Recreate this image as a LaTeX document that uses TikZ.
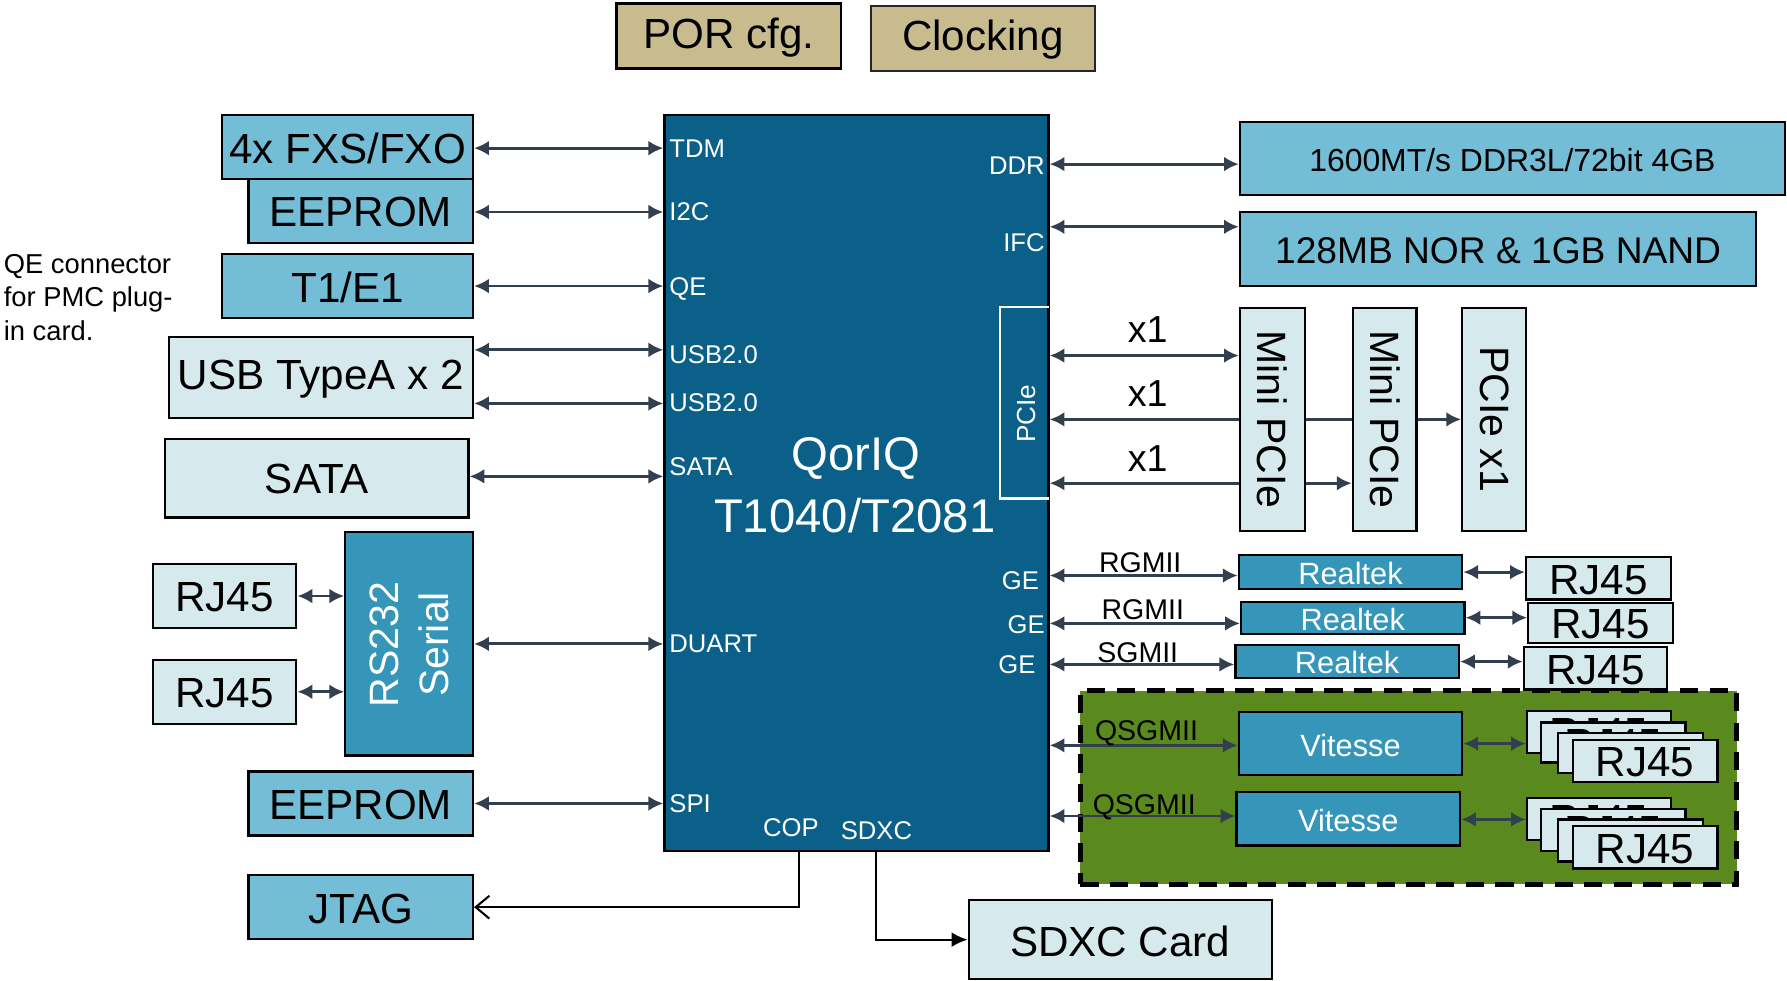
\documentclass[tikz,border=0pt]{standalone}
\usepackage{fontspec}
\setmainfont{Liberation Sans}
\usetikzlibrary{arrows.meta,fit}
\definecolor{chipblue}{HTML}{0A6089}
\definecolor{medblue}{HTML}{73BDD6}
\definecolor{lightblue}{HTML}{D6EAEE}
\definecolor{rsblue}{HTML}{3596B9}
\definecolor{tanc}{HTML}{C8BC8F}
\definecolor{grn}{HTML}{5A891D}
\definecolor{arr}{HTML}{323F4F}
\pgfdeclarelayer{bg}
\pgfdeclarelayer{edges}
\pgfsetlayers{bg,edges,main}
\newcommand\fsBig{\fontsize{18.5pt}{22pt}\selectfont}
\newcommand\fsChip{\fontsize{20.75pt}{25pt}\selectfont}
\newcommand\fsPort{\fontsize{11.25pt}{13.5pt}\selectfont}
\newcommand\fsMid{\fontsize{13.5pt}{16pt}\selectfont}
\newcommand\fsBus{\fontsize{12.5pt}{15pt}\selectfont}
\newcommand\fsXone{\fontsize{16.5pt}{20pt}\selectfont}
\newcommand\fsDdr{\fontsize{14pt}{17pt}\selectfont}
\newcommand\fsNor{\fontsize{16.3pt}{19pt}\selectfont}
\newcommand\fsRot{\fontsize{18pt}{22pt}\selectfont}
\newcommand\fsNote{\fontsize{12pt}{14.8pt}\selectfont}
\newcommand\fsPcie{\fontsize{11.5pt}{14pt}\selectfont}
% box: name, x1, y1, x2, y2, style, text
\newcommand\bx[7]{\node[#6, fit={(#2,#3) (#4,#5)}] (#1) {};
  \node[#6, draw=none, fill=none] (#1-t) at ([yshift=-0.6pt]#1.center) {#7};}
\begin{document}
\begin{tikzpicture}[x=0.5pt,y=-0.5pt,
  box/.style={draw=black,line width=1pt,inner sep=0pt,text=black,font=\fsBig},
  med/.style={box,fill=medblue},
  lite/.style={box,fill=lightblue},
  rsb/.style={box,fill=rsblue,text=white,font=\fsMid},
  tanbox/.style={box,fill=tanc},
  port/.style={text=white,font=\fsPort,inner sep=0pt},
  bus/.style={text=black,font=\fsBus,inner sep=0pt},
  link/.style={draw=arr,line width=1.25pt,{Latex[length=6.5pt,width=6.5pt]}-{Latex[length=6.5pt,width=6.5pt]}},
  plain/.style={draw=black,line width=0.9pt}
]
\useasboundingbox (0,0) rectangle (1568,860);

% top config boxes
\bx{por}{541}{3}{738}{60}{tanbox}{POR cfg.}
\bx{clk}{764}{5}{961}{62}{tanbox,draw=black!85}{Clocking}

% chip
\node[box,fill=chipblue,fit={(583,101) (920,747)}] (chip) {};
\node[fit={(878,270) (920,437)},inner sep=0pt] (pciebr) {};
\draw[white,line width=1pt] (pciebr.north east) -- (pciebr.north west) -- (pciebr.south west) -- (pciebr.south east);
\node[port,font=\fsPcie,rotate=90] (pcietxt) at (900.5,363) {PCIe};
\node[text=white,font=\fsChip] (q1) at (751,402) {QorIQ};
\node[text=white,font=\fsChip] (q2) at (750,452) {T1040/T2081};
\node[port,anchor=west] (ptdm) at (587,130.5) {TDM};
\node[port,anchor=west] (pi2c) at (587,185.5) {I2C};
\node[port,anchor=west] (pqe) at (587,253.5) {QE};
\node[port,anchor=west] (pusb1) at (587,311.5) {USB2.0};
\node[port,anchor=west] (pusb2) at (587,353.5) {USB2.0};
\node[port,anchor=west] (psata) at (587,409.5) {SATA};
\node[port,anchor=west] (pduart) at (587,564.5) {DUART};
\node[port,anchor=west] (pspi) at (587,705.5) {SPI};
\node[port,anchor=east] (pddr) at (917,145.5) {DDR};
\node[port,anchor=east] (pifc) at (917,213) {IFC};
\node[port,anchor=east] (pge1) at (912,509.5) {GE};
\node[port,anchor=east] (pge2) at (917,548.5) {GE};
\node[port,anchor=east] (pge3) at (909,583.5) {GE};
\node[port] (pcop) at (694,726) {COP};
\node[port] (psdxc) at (769,729) {SDXC};

% left side
\node[anchor=west,align=left,inner sep=0pt,font=\fsNote] (qenote) at (3,261) {QE connector\\for PMC plug-\\in card.};
\bx{fxs}{195}{101}{415}{157}{med}{4x FXS/FXO}
\bx{eep1}{218}{157}{415}{213}{med}{EEPROM}
\bx{t1}{195}{223}{415}{279}{med}{T1/E1}
\bx{usb}{148}{296}{415}{367}{lite}{USB TypeA x 2}
\bx{sata}{145}{385}{411}{454}{lite}{SATA}
\node[box,fill=rsblue,fit={(303,467) (415,663)}] (rs) {};
\node[text=white,font=\fsRot,rotate=90,align=center] (rstxt) at (359,565.5) {RS232\\Serial};
\bx{rja}{134}{495}{260}{551}{lite}{RJ45}
\bx{rjb}{134}{579}{260}{635}{lite}{RJ45}
\bx{eep2}{218}{677}{415}{733}{med}{EEPROM}
\bx{jtag}{218}{768}{415}{824}{med}{JTAG}

% right side
\bx{ddr}{1088}{107}{1566}{171}{med,font=\fsDdr}{1600MT/s DDR3L/72bit 4GB}
\bx{nor}{1088}{186}{1541}{251}{med,font=\fsNor}{128MB NOR \& 1GB NAND}
\node[lite,fit={(1088,270) (1145,466)}] (mp1) {};
\node[lite,fit={(1187,270) (1243,466)}] (mp2) {};
\node[lite,fit={(1283,270) (1339,466)}] (px1) {};
\node[font=\fsRot,rotate=-90] (mp1t) at (mp1.center) {Mini PCIe};
\node[font=\fsRot,rotate=-90] (mp2t) at (mp2.center) {Mini PCIe};
\node[font=\fsRot,rotate=-90] (px1t) at (px1.center) {PCIe x1};
\node[font=\fsXone,inner sep=0pt] (xa) at (1007,289) {x1};
\node[font=\fsXone,inner sep=0pt] (xb) at (1007,345) {x1};
\node[font=\fsXone,inner sep=0pt] (xc) at (1007,402) {x1};

% ethernet
\begin{pgfonlayer}{bg}
\node[fit={(948,606) (1524,776)},inner sep=0pt,fill=grn,draw=black,line width=2.2pt,dash pattern=on 8pt off 5pt] (eth) {};
\end{pgfonlayer}
\bx{rt1}{1087}{487}{1283}{517}{rsb}{Realtek}
\bx{rt2}{1089}{528}{1285}{556}{rsb}{Realtek}
\bx{rt3}{1084}{566}{1280}{595}{rsb}{Realtek}
\bx{rj1}{1339}{489}{1466}{526}{lite}{RJ45}
\bx{rj2}{1341}{529}{1468}{564}{lite}{RJ45}
\bx{rj3}{1337}{568}{1463}{605}{lite}{RJ45}
\bx{vt1}{1087}{625}{1283}{680}{rsb}{Vitesse}
\bx{vt2}{1085}{695}{1281}{742}{rsb}{Vitesse}
\bx{sa}{1340}{624}{1466}{661}{lite}{RJ45}
\bx{sb}{1352}{634}{1479}{669}{lite}{RJ45}
\bx{sc}{1367}{643}{1494}{678}{lite}{RJ45}
\bx{sd}{1380}{649}{1507}{686}{lite}{RJ45}
\bx{ta}{1340}{700}{1466}{737}{lite}{RJ45}
\bx{tb}{1352}{710}{1479}{747}{lite}{RJ45}
\bx{tc}{1367}{719}{1494}{756}{lite}{RJ45}
\bx{td}{1380}{725}{1507}{762}{lite}{RJ45}
\node[bus] (bus1) at (1000.5,494) {RGMII};
\node[bus] (bus2) at (1002.7,535) {RGMII};
\node[bus] (bus3) at (998.3,573) {SGMII};
\node[bus] (bus4) at (1006,643) {QSGMII};
\node[bus] (bus5) at (1004,708.5) {QSGMII};

% bottom
\bx{sdxc}{850}{790}{1116}{859}{lite}{SDXC Card}
\coordinate (copout) at (701,748);
\coordinate (sdout) at (769,748);

\begin{pgfonlayer}{edges}
\draw[link] (fxs.east |- 0,130) -- (chip.west |- 0,130);
\draw[link] (eep1.east |- 0,186) -- (chip.west |- 0,186);
\draw[link] (t1.east |- 0,251) -- (chip.west |- 0,251);
\draw[link] (usb.east |- 0,307) -- (chip.west |- 0,307);
\draw[link] (usb.east |- 0,354) -- (chip.west |- 0,354);
\draw[link] (sata.east |- 0,418) -- (chip.west |- 0,418);
\draw[link] (rs.east) -- (rs.east -| chip.west);
\draw[link] (eep2.east) -- (eep2.east -| chip.west);
\draw[link] (rja.east) -- (rja.east -| rs.west);
\draw[link] (rjb.east) -- (rjb.east -| rs.west);
\draw[link] (chip.east |- 0,144) -- (ddr.west |- 0,144);
\draw[link] (chip.east |- 0,199) -- (nor.west |- 0,199);
\draw[link] (chip.east |- 0,312) -- (mp1.west |- 0,312);
\draw[link] (chip.east |- 0,368) -- (px1.west |- 0,368);
\draw[link] (chip.east |- 0,424) -- (mp2.west |- 0,424);
\draw[link] (chip.east |- 0,505) -- (rt1.west |- 0,505);
\draw[link] (chip.east |- 0,547) -- (rt2.west |- 0,547);
\draw[link] (chip.east |- 0,583) -- (rt3.west |- 0,583);
\draw[link] (rt1.east) -- (rt1.east -| rj1.west);
\draw[link] (rt2.east) -- (rt2.east -| rj2.west);
\draw[link] (rt3.east) -- (rt3.east -| rj3.west);
\draw[link] (chip.east |- 0,654) -- (vt1.west |- 0,654);
\draw[link] (chip.east |- 0,716) -- (vt2.west |- 0,716);
\draw[link] (vt1.east) -- (vt1.east -| sa.west);
\draw[link] (vt2.east |- 0,719) -- (ta.west |- 0,719);
\draw[plain,-{Straight Barb[length=6pt,width=10pt]}] (copout) |- (jtag.east);
\draw[plain,-{Latex[length=7pt,width=6.5pt]}] (sdout) |- (sdxc.west);
\end{pgfonlayer}
\end{tikzpicture}
\end{document}
